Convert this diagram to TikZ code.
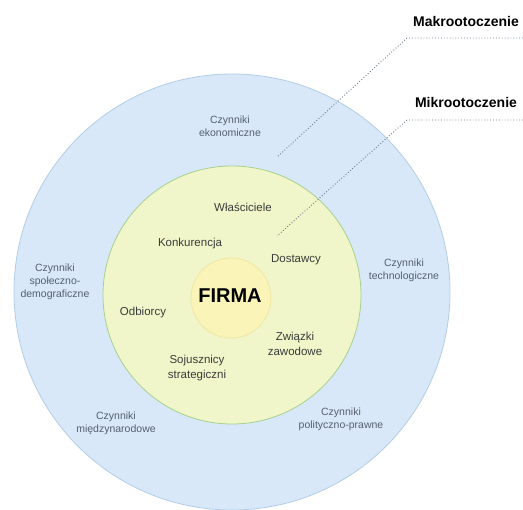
\documentclass[tikz,border=0pt]{standalone}
\usepackage{fontspec}
\setmainfont{Liberation Sans}
\usepackage{xcolor}
\usetikzlibrary{positioning}

\definecolor{makroblue}{HTML}{D8E8F8}
\definecolor{makroline}{HTML}{B3CDE6}
\definecolor{mikrogreen}{HTML}{F0F6C9}
\definecolor{mikroline}{HTML}{A8D08D}
\definecolor{firmayellow}{HTML}{FAF4B8}
\definecolor{firmaline}{HTML}{F0E6A6}
\definecolor{outertext}{HTML}{56606E}
\definecolor{innertext}{HTML}{3A3D3A}
\definecolor{dotline}{HTML}{6D7C90}

\begin{document}
\begin{tikzpicture}[x=1pt,y=-1pt]
\tikzstyle{ring} = [
	line width=0.8pt
];
\tikzstyle{outerlabel} = [
	align=center,
	text=outertext,
	font=\fontsize{10.5}{13}\selectfont,
	inner sep=0pt
];
\tikzstyle{innerlabel} = [
	align=center,
	text=innertext,
	font=\fontsize{11.5}{14.5}\selectfont,
	inner sep=0pt
];
\tikzstyle{title} = [
	anchor=center,
	font=\fontsize{14}{16}\selectfont\bfseries,
	inner sep=0pt
];
\tikzstyle{pointer} = [
	dotted,
	line width=0.9pt,
	color=dotline
];

\useasboundingbox (0,0) rectangle (523,510);

%rings
\draw[ring, fill=makroblue, draw=makroline] (232,292) circle (218pt);
\draw[ring, fill=mikrogreen, draw=mikroline] (232,295) circle (129pt);
\draw[ring, fill=firmayellow, draw=firmaline] (231,298) circle (40pt);

%firm
\node[font=\fontsize{20}{22}\selectfont\bfseries](firma) at (230,296) {FIRMA};

%microenvironment
\node[innerlabel](wlasciciele) at (243,207) {Właściciele};
\node[innerlabel](konkurencja) at (190,244) {Konkurencja};
\node[innerlabel](dostawcy) at (296,260) {Dostawcy};
\node[innerlabel](odbiorcy) at (143,313) {Odbiorcy};
\node[innerlabel](zwiazki) at (295,344) {Związki\\zawodowe};
\node[innerlabel](sojusznicy) at (197,368) {Sojusznicy\\strategiczni};

%macroenvironment
\node[outerlabel](ekonomiczne) at (230,126) {Czynniki\\ekonomiczne};
\node[outerlabel](technologiczne) at (404,270) {Czynniki\\technologiczne};
\node[outerlabel](demograficzne) at (55,282) {Czynniki\\społeczno-\\demograficzne};
\node[outerlabel](miedzynarodowe) at (116,423) {Czynniki\\międzynarodowe};
\node[outerlabel](prawne) at (341,419) {Czynniki\\polityczno-prawne};

%titles
\node[title](makro) at (466,22) {Makrootoczenie};
\node[title](mikro) at (466,103) {Mikrootoczenie};

\coordinate (makroend) at (523,38);
\coordinate (makrobend) at (407,38);
\coordinate (makrotip) at (277,157);
\coordinate (mikroend) at (523,120);
\coordinate (mikrobend) at (407,120);
\coordinate (mikrotip) at (277,236);

%pointers
\draw[pointer] (makroend) -- (makrobend) -- (makrotip);
\draw[pointer] (mikroend) -- (mikrobend) -- (mikrotip);

\end{tikzpicture}
\end{document}
